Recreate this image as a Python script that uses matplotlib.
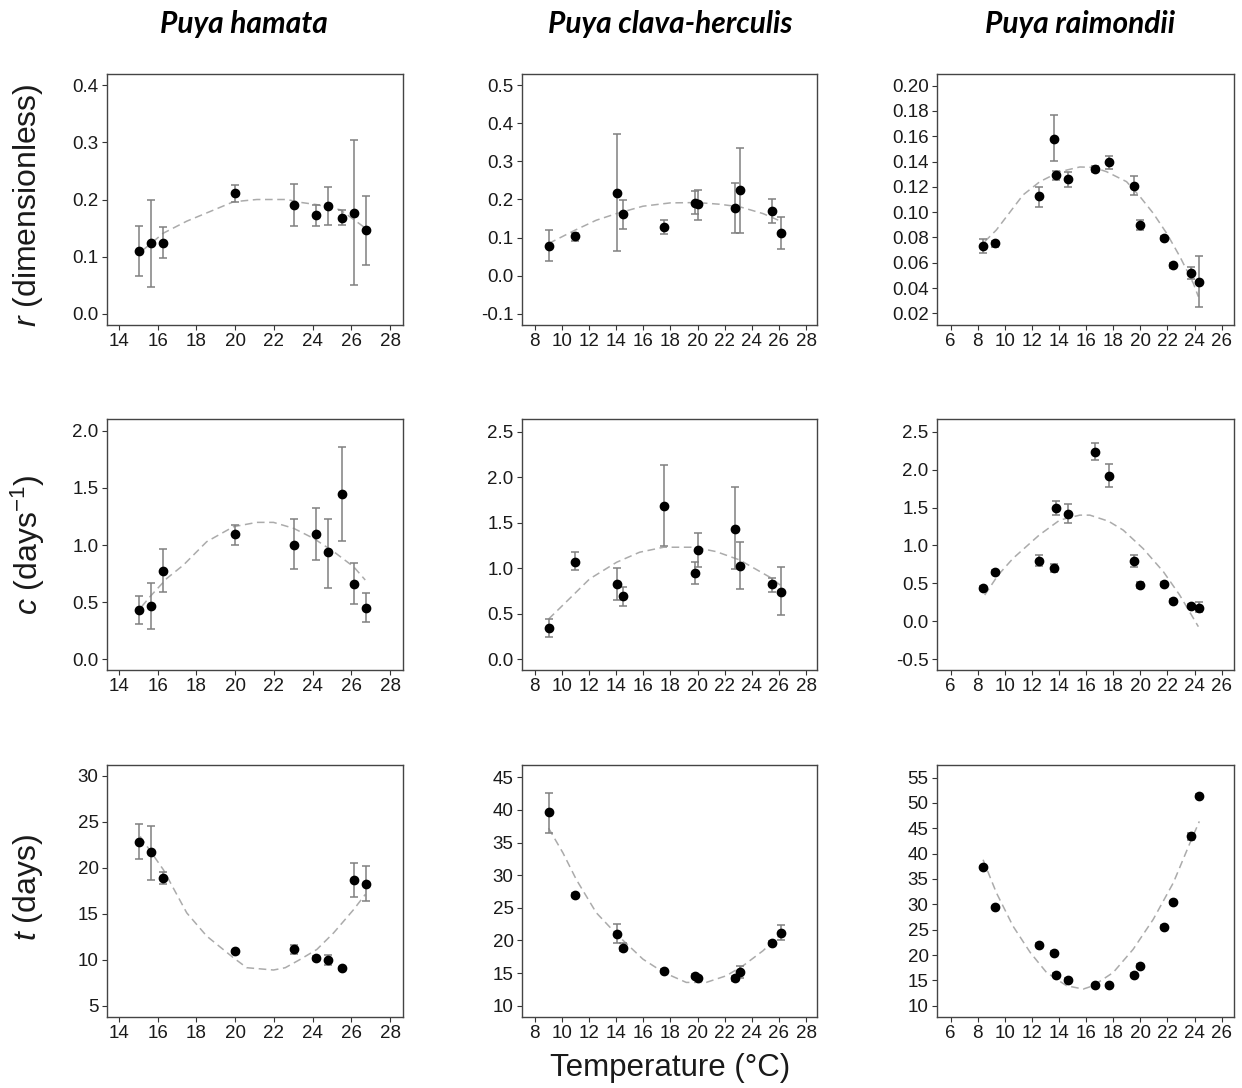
import matplotlib
matplotlib.use("Agg")
import matplotlib.pyplot as plt
import numpy as np

plt.rcParams["font.family"] = ["Liberation Sans", "DejaVu Sans"]
plt.rcParams["mathtext.fontset"] = "custom"
plt.rcParams["mathtext.rm"] = "Liberation Sans"
plt.rcParams["mathtext.it"] = "Liberation Sans:italic"

species = ["Puya hamata", "Puya clava-herculis", "Puya raimondii"]
row_labels = ["$r$ (dimensionless)", "$c$ (days$^{-1}$)", "$t$ (days)"]

# temperatures of the observations (same for each parameter)
hamata_temp = [15.05, 15.67, 16.28, 19.98, 23.02, 24.17, 24.78, 25.53, 26.14, 26.74]
clava_temp = [9.03, 10.97, 14.04, 14.5, 17.5, 19.78, 20.07, 22.77, 23.14, 25.47, 26.13]
raimondii_temp = [8.39, 9.25, 12.53, 13.59, 13.78, 14.65, 16.67, 17.65, 19.5, 19.97,
                  21.71, 22.38, 23.71, 24.3]

# --- r (dimensionless) ---
hamata_r = [0.110, 0.1235, 0.1235, 0.211, 0.191, 0.172, 0.188, 0.168, 0.176, 0.146]
hamata_r_lo = [0.066, 0.047, 0.098, 0.195, 0.154, 0.154, 0.156, 0.156, 0.050, 0.085]
hamata_r_hi = [0.154, 0.200, 0.151, 0.225, 0.227, 0.190, 0.222, 0.181, 0.304, 0.206]
hamata_r_fit_x = [15.26, 16.29, 17.5, 18.71, 19.91, 21.12, 22.67, 23.36, 24.22, 25.43, 26.12, 26.72]
hamata_r_fit = [0.112, 0.141, 0.162, 0.179, 0.196, 0.200, 0.200, 0.195, 0.191, 0.182, 0.165, 0.150]

clava_r = [0.0777, 0.1056, 0.218, 0.161, 0.129, 0.191, 0.1876, 0.177, 0.224, 0.170, 0.1126]
clava_r_lo = [0.040, 0.092, 0.065, 0.123, 0.109, 0.163, 0.1466, 0.1126, 0.1126, 0.1396, 0.0707]
clava_r_hi = [0.1195, 0.113, 0.373, 0.198, 0.146, 0.2225, 0.226, 0.242, 0.335, 0.2016, 0.1536]
clava_r_fit_x = [9.03, 10.97, 12.54, 14.04, 15.98, 17.99, 19.98, 21.62, 23.14, 24.81, 26.13]
clava_r_fit = [0.0846, 0.1195, 0.1457, 0.1632, 0.1824, 0.1911, 0.192, 0.1876, 0.1806, 0.1632, 0.1431]

raimondii_r = [0.0732, 0.0753, 0.1125, 0.1578, 0.129, 0.126, 0.1341, 0.1394, 0.1207, 0.0898,
               0.0796, 0.058, 0.0516, 0.0445]
raimondii_r_lo = [0.068, 0.0727, 0.1043, 0.1407, 0.1252, 0.120, 0.1315, 0.1341, 0.1133, 0.0859,
                  0.078, 0.0556, 0.0471, 0.0247]
raimondii_r_hi = [0.0785, 0.0775, 0.120, 0.1768, 0.1328, 0.132, 0.1365, 0.1441, 0.1286, 0.0938,
                  0.0814, 0.060, 0.0564, 0.0653]
raimondii_r_fit_x = [8.51, 9.37, 11.34, 12.58, 14.05, 15.53, 16.52, 17.5, 18.98, 19.97, 20.95,
                     21.94, 22.92, 23.91, 24.28]
raimondii_r_fit = [0.0767, 0.0859, 0.1136, 0.1241, 0.132, 0.1357, 0.1354, 0.132, 0.1241, 0.1123,
                   0.0991, 0.0833, 0.0648, 0.0437, 0.0332]

# --- c (days^-1) ---
hamata_c = [0.431, 0.466, 0.773, 1.093, 1.0, 1.093, 0.936, 1.446, 0.659, 0.452]
hamata_c_lo = [0.306, 0.262, 0.592, 1.0, 0.787, 0.866, 0.627, 1.035, 0.481, 0.329]
hamata_c_hi = [0.557, 0.671, 0.968, 1.175, 1.227, 1.321, 1.227, 1.857, 0.843, 0.577]
hamata_c_fit_x = [15.17, 15.6, 16.47, 17.33, 18.53, 19.91, 21.12, 21.98, 23.02, 24.05, 25.09,
                  26.12, 26.72]
hamata_c_fit = [0.461, 0.548, 0.708, 0.825, 1.029, 1.16, 1.198, 1.198, 1.146, 1.058, 0.942,
                0.81, 0.694]

clava_c = [0.341, 1.07, 0.828, 0.70, 1.689, 0.945, 1.201, 1.429, 1.029, 0.828, 0.744]
clava_c_lo = [0.242, 0.985, 0.656, 0.586, 1.245, 0.832, 1.015, 0.989, 0.773, 0.744, 0.487]
clava_c_hi = [0.443, 1.176, 1.0, 0.799, 2.132, 1.073, 1.388, 1.894, 1.286, 0.897, 1.015]
clava_c_fit_x = [9.03, 9.84, 10.97, 12.05, 14.04, 15.73, 17.5, 19.78, 21.37, 23.09, 25.47, 26.13]
clava_c_fit = [0.443, 0.56, 0.725, 0.883, 1.066, 1.176, 1.231, 1.231, 1.183, 1.092, 0.89, 0.81]

raimondii_c = [0.444, 0.65, 0.80, 0.698, 1.489, 1.419, 2.231, 1.919, 0.80, 0.479, 0.492,
               0.272, 0.198, 0.18]
raimondii_c_lo = [0.42, 0.625, 0.729, 0.65, 1.40, 1.296, 2.126, 1.765, 0.72, 0.444, 0.47,
                  0.25, 0.175, 0.127]
raimondii_c_hi = [0.47, 0.675, 0.874, 0.755, 1.581, 1.546, 2.354, 2.077, 0.874, 0.523, 0.515,
                  0.295, 0.225, 0.25]
raimondii_c_fit_x = [8.51, 9.5, 10.6, 12.53, 14.05, 15.53, 16.27, 17.65, 18.73, 20.2, 21.7,
                     22.9, 24.28]
raimondii_c_fit = [0.347, 0.61, 0.83, 1.137, 1.335, 1.40, 1.40, 1.32, 1.203, 0.96, 0.654,
                   0.347, -0.07]

# --- t (days) ---
hamata_t = [22.75, 21.67, 18.85, 10.92, 11.21, 10.2, 9.94, 9.08, 18.67, 18.24]
hamata_t_lo = [20.98, 18.71, 18.28, 10.75, 10.63, 10.0, 9.47, 8.9, 16.87, 16.44]
hamata_t_hi = [24.77, 24.48, 19.5, 11.1, 11.64, 10.4, 10.48, 9.25, 20.51, 20.22]
hamata_t_fit_x = [15.09, 16.29, 17.5, 18.53, 19.91, 20.6, 21.98, 22.59, 23.36, 24.22, 25.09,
                  26.12, 26.72]
hamata_t_fit = [23.4, 19.79, 15.1, 12.58, 10.23, 9.15, 8.9, 9.15, 10.05, 11.13, 12.94, 15.46, 17.1]

clava_t = [39.66, 26.89, 20.94, 18.86, 15.35, 14.53, 14.18, 14.18, 15.14, 19.57, 21.14]
clava_t_lo = [36.45, 26.6, 19.57, 18.35, 15.1, 14.3, 13.95, 13.72, 14.18, 19.3, 20.08]
clava_t_hi = [42.66, 27.2, 22.52, 19.67, 15.6, 14.8, 14.4, 14.58, 16.1, 19.85, 22.37]
clava_t_fit_x = [9.03, 10.09, 11.07, 12.54, 14.04, 15.98, 17.5, 19.17, 20.64, 22.11, 23.34,
                 24.81, 26.13]
clava_t_fit = [37.2, 33.4, 29.33, 24.25, 20.94, 17.13, 15.1, 13.57, 13.57, 14.58, 16.1, 18.4, 20.94]

raimondii_t = [37.38, 29.46, 22.06, 20.49, 16.1, 15.12, 14.07, 14.07, 16.1, 17.93, 25.6,
               30.44, 43.54, 51.46]
raimondii_t_lo = [37.1, 29.2, 21.8, 20.2, 15.8, 14.85, 13.8, 13.8, 15.8, 17.6, 25.3,
                  30.1, 42.75, 51.2]
raimondii_t_hi = [37.65, 29.75, 22.3, 20.8, 16.4, 15.4, 14.35, 14.35, 16.4, 18.2, 25.9,
                  30.75, 44.06, 51.7]
raimondii_t_fit_x = [8.39, 9.37, 10.6, 11.87, 13.07, 14.55, 15.78, 16.52, 18.0, 19.47, 20.95,
                     22.43, 23.66, 24.35]
raimondii_t_fit = [38.8, 32.3, 25.7, 20.5, 16.56, 13.94, 13.28, 13.94, 16.56, 21.14, 27.04,
                   34.24, 42.1, 46.36]

temps = [hamata_temp, clava_temp, raimondii_temp]
panels = [
    [(hamata_r, hamata_r_lo, hamata_r_hi, hamata_r_fit_x, hamata_r_fit),
     (clava_r, clava_r_lo, clava_r_hi, clava_r_fit_x, clava_r_fit),
     (raimondii_r, raimondii_r_lo, raimondii_r_hi, raimondii_r_fit_x, raimondii_r_fit)],
    [(hamata_c, hamata_c_lo, hamata_c_hi, hamata_c_fit_x, hamata_c_fit),
     (clava_c, clava_c_lo, clava_c_hi, clava_c_fit_x, clava_c_fit),
     (raimondii_c, raimondii_c_lo, raimondii_c_hi, raimondii_c_fit_x, raimondii_c_fit)],
    [(hamata_t, hamata_t_lo, hamata_t_hi, hamata_t_fit_x, hamata_t_fit),
     (clava_t, clava_t_lo, clava_t_hi, clava_t_fit_x, clava_t_fit),
     (raimondii_t, raimondii_t_lo, raimondii_t_hi, raimondii_t_fit_x, raimondii_t_fit)],
]

xlims = [(13.38, 28.67), (7.07, 28.8), (4.99, 26.91)]
xticks = [np.arange(14, 29, 2), np.arange(8, 29, 2), np.arange(6, 27, 2)]
ylims = [
    [(-0.02, 0.42), (-0.129, 0.529), (0.0108, 0.2092)],
    [(-0.093, 2.102), (-0.117, 2.639), (-0.641, 2.667)],
    [(3.8, 31.15), (8.27, 46.88), (7.77, 57.49)],
]
yticks = [
    [np.arange(0, 0.41, 0.1), np.arange(-0.1, 0.51, 0.1), np.arange(0.02, 0.201, 0.02)],
    [np.arange(0, 2.01, 0.5), np.arange(0, 2.51, 0.5), np.arange(-0.5, 2.51, 0.5)],
    [np.arange(5, 31, 5), np.arange(10, 46, 5), np.arange(10, 56, 5)],
]
yfmt = [["%.1f", "%.1f", "%.2f"], ["%.1f", "%.1f", "%.1f"], ["%d", "%d", "%d"]]

col_left = [107, 522, 937]
col_width = [296, 295, 297]
row_top = [74, 419, 765]
row_height = [251, 251, 252]
W, H = 1242, 1088

fig = plt.figure(figsize=(W / 100, H / 100), dpi=100)

for i in range(3):
    for j in range(3):
        ax = fig.add_axes([col_left[j] / W, 1 - (row_top[i] + row_height[i]) / H,
                           col_width[j] / W, row_height[i] / H])
        y, lo, hi, fx, fy = panels[i][j]
        x = temps[j]
        y = np.array(y)
        yerr = [y - np.array(lo), np.array(hi) - y]
        ax.plot(fx, fy, color="#ababab", lw=1.1, ls=(0, (5, 3)), zorder=1)
        ax.errorbar(x, y, yerr=yerr, fmt="none", ecolor="#808080", elinewidth=1.1,
                    capsize=3, capthick=1.1, zorder=2)
        ax.plot(x, y, "o", color="black", ms=6, zorder=3)
        ax.set_xlim(*xlims[j])
        ax.set_xticks(xticks[j])
        ax.set_ylim(*ylims[i][j])
        ax.set_yticks(yticks[i][j])
        ax.set_yticklabels([yfmt[i][j] % v for v in yticks[i][j]])
        ax.tick_params(labelsize=13.5, length=3.5, width=0.8, color="#333333",
                       labelcolor="#1a1a1a", pad=2.5)
        for s in ax.spines.values():
            s.set_color("#444444")
            s.set_linewidth(1.0)

title_x = [244, 670, 1080]
for j in range(3):
    fig.text(title_x[j] / W, 1 - 24 / H, species[j], ha="center", va="center",
             fontsize=21.5, fontweight="bold", fontstyle="italic", family="Lato")

label_y = [205, 545, 888]
for i in range(3):
    fig.text(28 / W, 1 - label_y[i] / H, row_labels[i], rotation=90, ha="center",
             va="center", fontsize=23, color="#1a1a1a")

fig.text(670 / W, 1 - 1068 / H, "Temperature (°C)", ha="center", va="center",
         fontsize=22.5, color="#1a1a1a")

fig.savefig("out.png", dpi=100)
